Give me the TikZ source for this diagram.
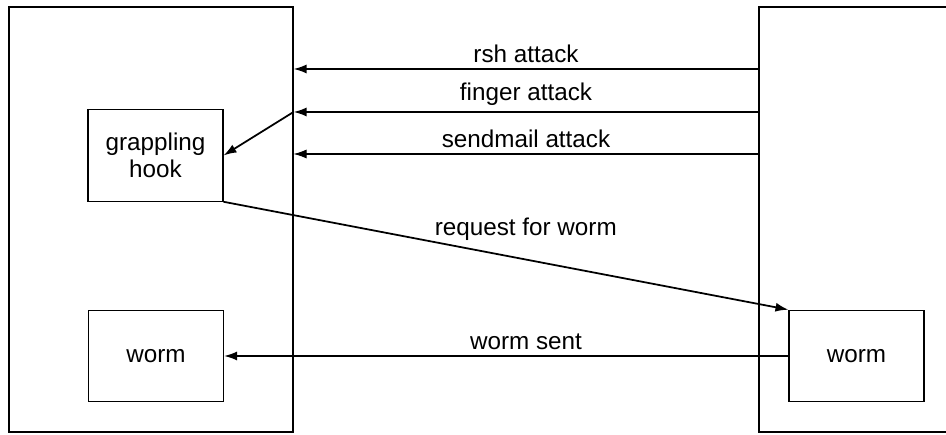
\documentclass[tikz,border=0pt]{standalone}
\usepackage{fontspec}
\setmainfont{Liberation Sans}
\usepackage{tikz}
\usetikzlibrary{positioning, arrows.meta}
\tikzset{
  machine/.style={draw, line width=0.6pt, minimum height=8.5cm, inner sep=0pt},
  progbox/.style={draw, line width=0.6pt, minimum width=2.7cm, minimum height=1.83cm,
    inner sep=1pt, align=center, font=\fontsize{13.8}{15}\selectfont},
  msg/.style={-{Latex[length=2.6mm, width=1.8mm]}, line width=1pt},
  msglabel/.style={font=\fontsize{13.8}{15}\selectfont, inner sep=2pt},
}

\begin{document}
\begin{tikzpicture}
  \useasboundingbox (0,0) rectangle (18.92,8.7);
  \clip (0,0) rectangle (18.92,8.7);
  % the two machines
  \node[machine, minimum width=5.68cm] (host) at (3.02,4.31) {};
  \node[machine, minimum width=4.4cm] (remote) at (17.38,4.31) {};
  % programs
  \node[progbox] (hook) at (3.11,5.59) {grappling\\hook};
  \node[progbox] (lworm) at (3.12,1.58) {worm};
  \node[progbox] (rworm) at (17.13,1.58) {worm};
  % attacks
  \draw[msg] (remote.west |- 0,7.32) -- node[msglabel, above=1pt] {rsh attack} (host.east |- 0,7.32);
  \draw[msg] (remote.west |- 0,6.46) -- node[msglabel, above=1pt] {finger attack} (host.east |- 0,6.46);
  \draw[msg, line width=0.6pt] (remote.west |- 0,5.62) -- node[msglabel, above=1pt] {sendmail attack} (host.east |- 0,5.62);
  \draw[msg] (host.east |- 0,6.46) -- (hook.east);
  % worm transfer
  \draw[msg] (hook.south east) -- node[msglabel, pos=0.535, above=0.3cm] {request for worm} (rworm.north west);
  \draw[msg] (rworm.west) -- node[msglabel, pos=0.465, above=1pt] {worm sent} (lworm.east);
\end{tikzpicture}
\end{document}
